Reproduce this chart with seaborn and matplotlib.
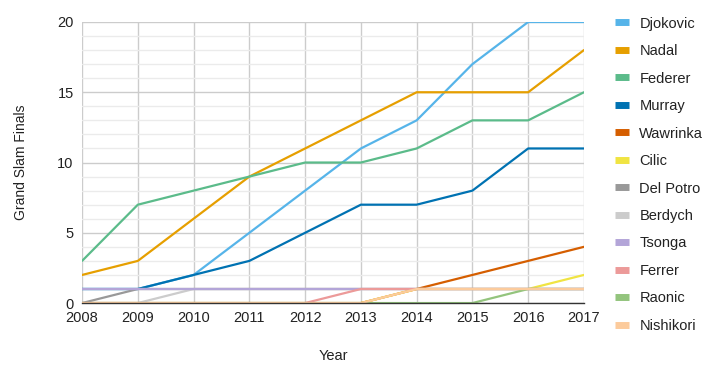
import pandas as pd
import seaborn as sns
import matplotlib.pyplot as plt
from matplotlib.lines import Line2D

# cumulative grand slam finals per player, 2008-2017
years = list(range(2008, 2018))
players = ['Djokovic', 'Nadal', 'Federer', 'Murray', 'Wawrinka', 'Cilic',
           'Del Potro', 'Berdych', 'Tsonga', 'Ferrer', 'Raonic', 'Nishikori']
djokovic = [1, 1, 2, 5, 8, 11, 13, 17, 20, 20]
nadal = [2, 3, 6, 9, 11, 13, 15, 15, 15, 18]
federer = [3, 7, 8, 9, 10, 10, 11, 13, 13, 15]
murray = [1, 1, 2, 3, 5, 7, 7, 8, 11, 11]
wawrinka = [0, 0, 0, 0, 0, 0, 1, 2, 3, 4]
cilic = [0, 0, 0, 0, 0, 0, 1, 1, 1, 2]
del_potro = [0, 1, 1, 1, 1, 1, 1, 1, 1, 1]
berdych = [0, 0, 1, 1, 1, 1, 1, 1, 1, 1]
tsonga = [1, 1, 1, 1, 1, 1, 1, 1, 1, 1]
ferrer = [0, 0, 0, 0, 0, 1, 1, 1, 1, 1]
raonic = [0, 0, 0, 0, 0, 0, 0, 0, 1, 1]
nishikori = [0, 0, 0, 0, 0, 0, 1, 1, 1, 1]
colors = ['#56B4E9', '#E69F00', '#5BBB8A', '#0072B2', '#D55E00', '#F0E442',
          '#999999', '#CCCCCC', '#B3A5D8', '#EC9A99', '#93C47D', '#FCCB9C']

series = [djokovic, nadal, federer, murray, wawrinka, cilic,
          del_potro, berdych, tsonga, ferrer, raonic, nishikori]
rows = []
for name, vals in zip(players, series):
    for y, v in zip(years, vals):
        rows.append({'player': name, 'year': y, 'finals': v})
df = pd.DataFrame(rows)

sns.set_style('white')
plt.rcParams['font.family'] = ['Liberation Sans', 'DejaVu Sans']

fig = plt.figure(figsize=(7.2, 3.76), dpi=100)
ax = fig.add_axes([0.114, 0.194, 0.697, 0.7475])

sns.lineplot(data=df, x='year', y='finals', hue='player', hue_order=players,
             palette=colors, linewidth=1.6, legend=False, ax=ax)

ax.set_xlim(2008, 2017)
ax.set_ylim(0, 20)
ax.set_xticks(years)
ax.set_yticks([0, 5, 10, 15, 20])
ax.set_yticks(range(0, 21), minor=True)
ax.grid(True, which='major', color='#CCCCCC', linewidth=1)
ax.grid(True, which='minor', axis='y', color='#EBEBEB', linewidth=1)
ax.set_axisbelow(True)
for s in ['top', 'right', 'left']:
    ax.spines[s].set_visible(False)
ax.spines['bottom'].set_color('#333333')
ax.spines['bottom'].set_linewidth(1)
ax.spines['bottom'].set_zorder(5)
ax.tick_params(axis='both', which='both', length=0, labelsize=10.5,
               colors='#222222')
ax.tick_params(axis='x', pad=6)
ax.tick_params(axis='y', pad=6)

ax.set_xlabel('Year', fontsize=10.5, color='#222222', labelpad=17)
ax.set_ylabel('Grand Slam Finals', fontsize=10, color='#222222', labelpad=21)

handles = [Line2D([0], [0], color=c, linewidth=5, solid_capstyle='butt')
           for c in colors]
ax.legend(handles, players, loc='upper left', bbox_to_anchor=(1.035, 1.066),
          frameon=False, fontsize=10.5, handlelength=1.0, handletextpad=0.7,
          labelspacing=0.925, labelcolor='#222222')

fig.savefig('out.png', dpi=100)
